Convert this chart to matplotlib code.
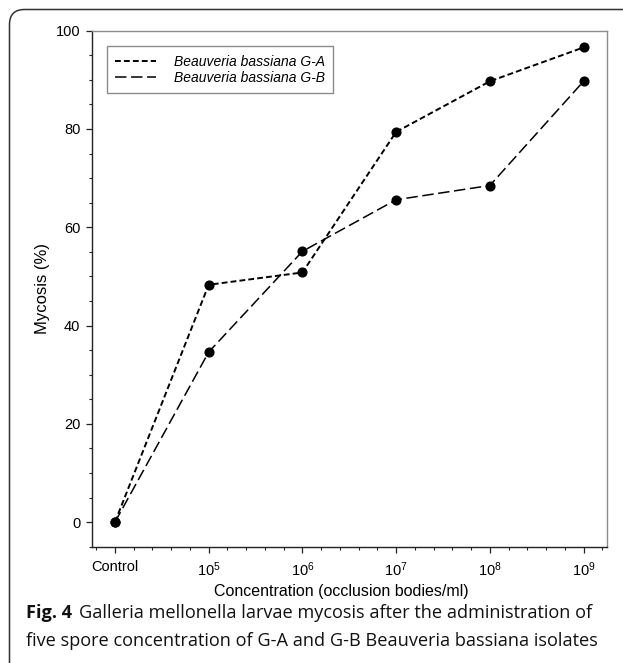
import matplotlib
matplotlib.use("Agg")
import matplotlib.pyplot as plt
from matplotlib.patches import FancyBboxPatch
from matplotlib.ticker import FixedLocator, MultipleLocator

plt.rcParams['font.family'] = ['Liberation Sans', 'DejaVu Sans']
plt.rcParams['mathtext.fontset'] = 'custom'
plt.rcParams['mathtext.rm'] = 'Liberation Sans'

# concentration levels (categorical positions on the x axis)
conc_labels = ['Control', r'$\mathregular{10^5}$', r'$\mathregular{10^6}$',
               r'$\mathregular{10^7}$', r'$\mathregular{10^8}$', r'$\mathregular{10^9}$']
conc_pos = [0, 1, 2, 3, 4, 5]

# mycosis (%)
mycosis_ga = [0, 48.3, 50.8, 79.4, 89.7, 96.6]
mycosis_gb = [0, 34.6, 55.1, 65.6, 68.5, 89.7]

series_names = ['Beauveria bassiana G-A', 'Beauveria bassiana G-B']

caption_bold = 'Fig. 4'
caption_line1 = 'Galleria mellonella larvae mycosis after the administration of'
caption_line2 = 'five spore concentration of G-A and G-B Beauveria bassiana isolates'

fig = plt.figure(figsize=(6.23, 6.63), dpi=100)
ax = fig.add_axes([0.1469, 0.1754, 0.8274, 0.7783])

ax.plot(conc_pos, mycosis_ga, color='black', lw=1.4, linestyle=(0, (3.0, 1.6)),
        marker='o', markersize=6.3, label=series_names[0])
ax.plot(conc_pos, mycosis_gb, color='black', lw=1.1, linestyle=(0, (7.5, 3.0)),
        marker='o', markersize=6.3, label=series_names[1])

ax.set_xlim(-0.25, 5.25)
ax.set_ylim(-5, 100)

ax.xaxis.set_major_locator(FixedLocator(conc_pos))
ax.set_xticklabels(conc_labels)
ax.xaxis.set_minor_locator(MultipleLocator(0.2))
ax.yaxis.set_major_locator(MultipleLocator(20))
ax.yaxis.set_minor_locator(MultipleLocator(5))

ax.tick_params(which='major', direction='out', length=4.5, width=0.9,
               labelsize=10.5, pad=3.5, color='#222222')
ax.tick_params(axis='x', which='major', pad=5)
ax.tick_params(which='minor', direction='out', length=2.2, width=0.8, color='#222222')

for s in ['left', 'bottom']:
    ax.spines[s].set_color('#222222')
    ax.spines[s].set_linewidth(1.0)
for s in ['top', 'right']:
    ax.spines[s].set_color('#8c8c8c')
    ax.spines[s].set_linewidth(1.0)

ax.set_xlabel('Concentration (occlusion bodies/ml)', fontsize=11.5)
ax.xaxis.set_label_coords(0.485, -0.072)
ax.set_ylabel('Mycosis (%)', fontsize=12)
ax.yaxis.set_label_coords(-0.081, 0.5)

leg = ax.legend(loc='upper left', bbox_to_anchor=(0.03, 0.97), borderaxespad=0,
                fancybox=False, edgecolor='#8c8c8c', framealpha=1,
                prop={'style': 'italic', 'size': 10}, handlelength=2.9,
                handletextpad=1.3, borderpad=0.6, labelspacing=0.15)
leg.get_frame().set_linewidth(1.0)
for h in leg.legend_handles:
    h.set_marker('')

# rounded panel frame (only top/left edges visible)
frame = FancyBboxPatch((0.095, -1.0), 8.0, 6.535 + 1.0,
                       boxstyle='round,pad=0,rounding_size=0.15',
                       transform=fig.dpi_scale_trans, fill=False,
                       edgecolor='#333333', linewidth=1.1)
fig.patches.append(frame)

# caption: fit first line to the width seen in the figure (x 26..596 px)
cap_size = 14.0
t1 = fig.text(26 / 623, 1 - 618 / 663, caption_bold, fontsize=cap_size,
              fontweight='bold', family='Open Sans', va='baseline', color='#111111')
t2 = fig.text(0, 1 - 618 / 663, caption_line1, fontsize=cap_size,
              family='Open Sans', va='baseline', color='#111111')
t3 = fig.text(26 / 623, 1 - 646 / 663, caption_line2, fontsize=cap_size,
              family='Open Sans', va='baseline', color='#111111')
r = fig.canvas.get_renderer()
w = t1.get_window_extent(r).width + 8 + t2.get_window_extent(r).width
cap_size = cap_size * 570 / w
for t in (t1, t2, t3):
    t.set_fontsize(cap_size)
bb = t1.get_window_extent(r)
t2.set_x((bb.x1 + 7 * cap_size / 14) / 623)

fig.savefig('out.png', dpi=100)
